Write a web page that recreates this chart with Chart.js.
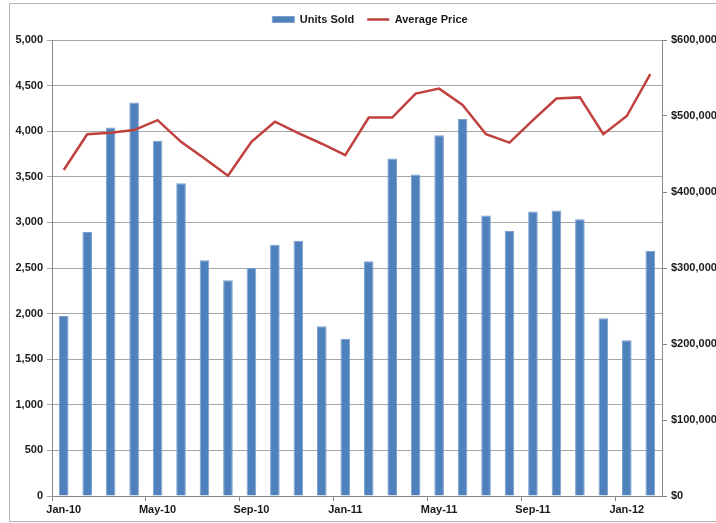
<!DOCTYPE html>
<html>
<head>
<meta charset="utf-8">
<script src="https://cdn.jsdelivr.net/npm/chart.js@4.4.1/dist/chart.umd.min.js"></script>
<style>
  body { margin: 0; background: #fff; overflow: hidden; }
  #frame { position: absolute; left: 9px; top: 3px; width: 760px; height: 517px; border: 1px solid #b4b4b4; }
  #wrap { position: absolute; left: 0; top: 0; width: 740px; height: 523px; }
</style>
</head>
<body>
<div id="frame"></div>
<div id="wrap"><canvas id="grafica"></canvas></div>
<script>
// meses ene-2010 a feb-2012
const meses = ['Jan-10','Feb-10','Mar-10','Apr-10','May-10','Jun-10','Jul-10','Aug-10','Sep-10','Oct-10','Nov-10','Dec-10',
  'Jan-11','Feb-11','Mar-11','Apr-11','May-11','Jun-11','Jul-11','Aug-11','Sep-11','Oct-11','Nov-11','Dec-11',
  'Jan-12','Feb-12'];
const unidades = [1975, 2895, 4040, 4315, 3895, 3430, 2585, 2365, 2500, 2755, 2800, 1860,
  1725, 2575, 3700, 3525, 3955, 4135, 3075, 2905, 3120, 3130, 3035, 1948,
  1707, 2690];
const precios = [429000, 476000, 478000, 481500, 494500, 466000, 444000, 421500, 466000, 492500, 477500, 463500,
  448500, 498000, 498000, 529500, 536000, 514500, 476000, 465000, 494500, 523000, 524500, 476000,
  500000, 555000];

const fuente = { family: 'Liberation Sans, Arial, sans-serif', size: 11, weight: 'bold' };
const gris = '#a6a6a6';

// deja mas espacio debajo de la leyenda
const espacioLeyenda = {
  id: 'espacioLeyenda',
  afterInit(chart) {
    const original = chart.legend.fit;
    chart.legend.fit = function () {
      original.call(this);
      this.height += 5;
    };
  }
};

const ctx = document.getElementById('grafica').getContext('2d');
let myChart = new Chart(ctx, {
  type: 'bar',
  data: {
    labels: meses,
    datasets: [
      {
        type: 'line',
        label: 'Average Price',
        data: precios,
        yAxisID: 'y1',
        borderColor: '#c0413e',
        borderWidth: 2.5,
        pointRadius: 0,
        pointStyle: 'line',
        tension: 0,
        order: 0
      },
      {
        label: 'Units Sold',
        data: unidades,
        yAxisID: 'y',
        backgroundColor: '#4f81bd',
        borderColor: '#7da0cf',
        borderWidth: 1,
        pointStyle: 'rect',
        barPercentage: 0.41,
        categoryPercentage: 1,
        order: 1
      }
    ]
  },
  plugins: [espacioLeyenda],
  options: {
    responsive: true,
    maintainAspectRatio: false,
    animation: false,
    layout: { padding: { top: 1, left: 0, right: 0, bottom: 0 } },
    plugins: {
      tooltip: { enabled: false },
      legend: {
        position: 'top',
        reverse: true,
        labels: {
          font: fuente,
          color: '#1a1a1a',
          usePointStyle: true,
          pointStyleWidth: 22,
          boxHeight: 6,
          padding: 13
        }
      }
    },
    scales: {
      x: {
        grid: {
          offset: true,
          drawOnChartArea: false,
          tickLength: 5,
          tickColor: c => (c.index % 4 === 0 ? '#888' : 'transparent')
        },
        border: { color: '#888' },
        ticks: {
          autoSkip: false,
          maxRotation: 0,
          padding: 2,
          font: fuente,
          color: '#1a1a1a',
          callback: function (v, i) { return i % 4 === 0 ? this.getLabelForValue(v) : ''; }
        },
        afterFit: s => { s.height = 27; }
      },
      y: {
        position: 'left',
        min: 0,
        max: 5000,
        ticks: { stepSize: 500, padding: 4, font: fuente, color: '#1a1a1a',
          callback: v => v.toLocaleString('en-US') },
        grid: { color: gris, tickLength: 5 },
        border: { color: '#888' },
        afterFit: s => { s.width = 52; }
      },
      y1: {
        position: 'right',
        min: 0,
        max: 600000,
        ticks: { stepSize: 100000, padding: 4, font: fuente, color: '#1a1a1a',
          callback: v => '$' + v.toLocaleString('en-US') },
        grid: { drawOnChartArea: false, tickLength: 5, tickColor: '#888' },
        border: { color: '#888' },
        afterFit: s => { s.width = 78; }
      }
    }
  }
});
</script>
</body>
</html>
